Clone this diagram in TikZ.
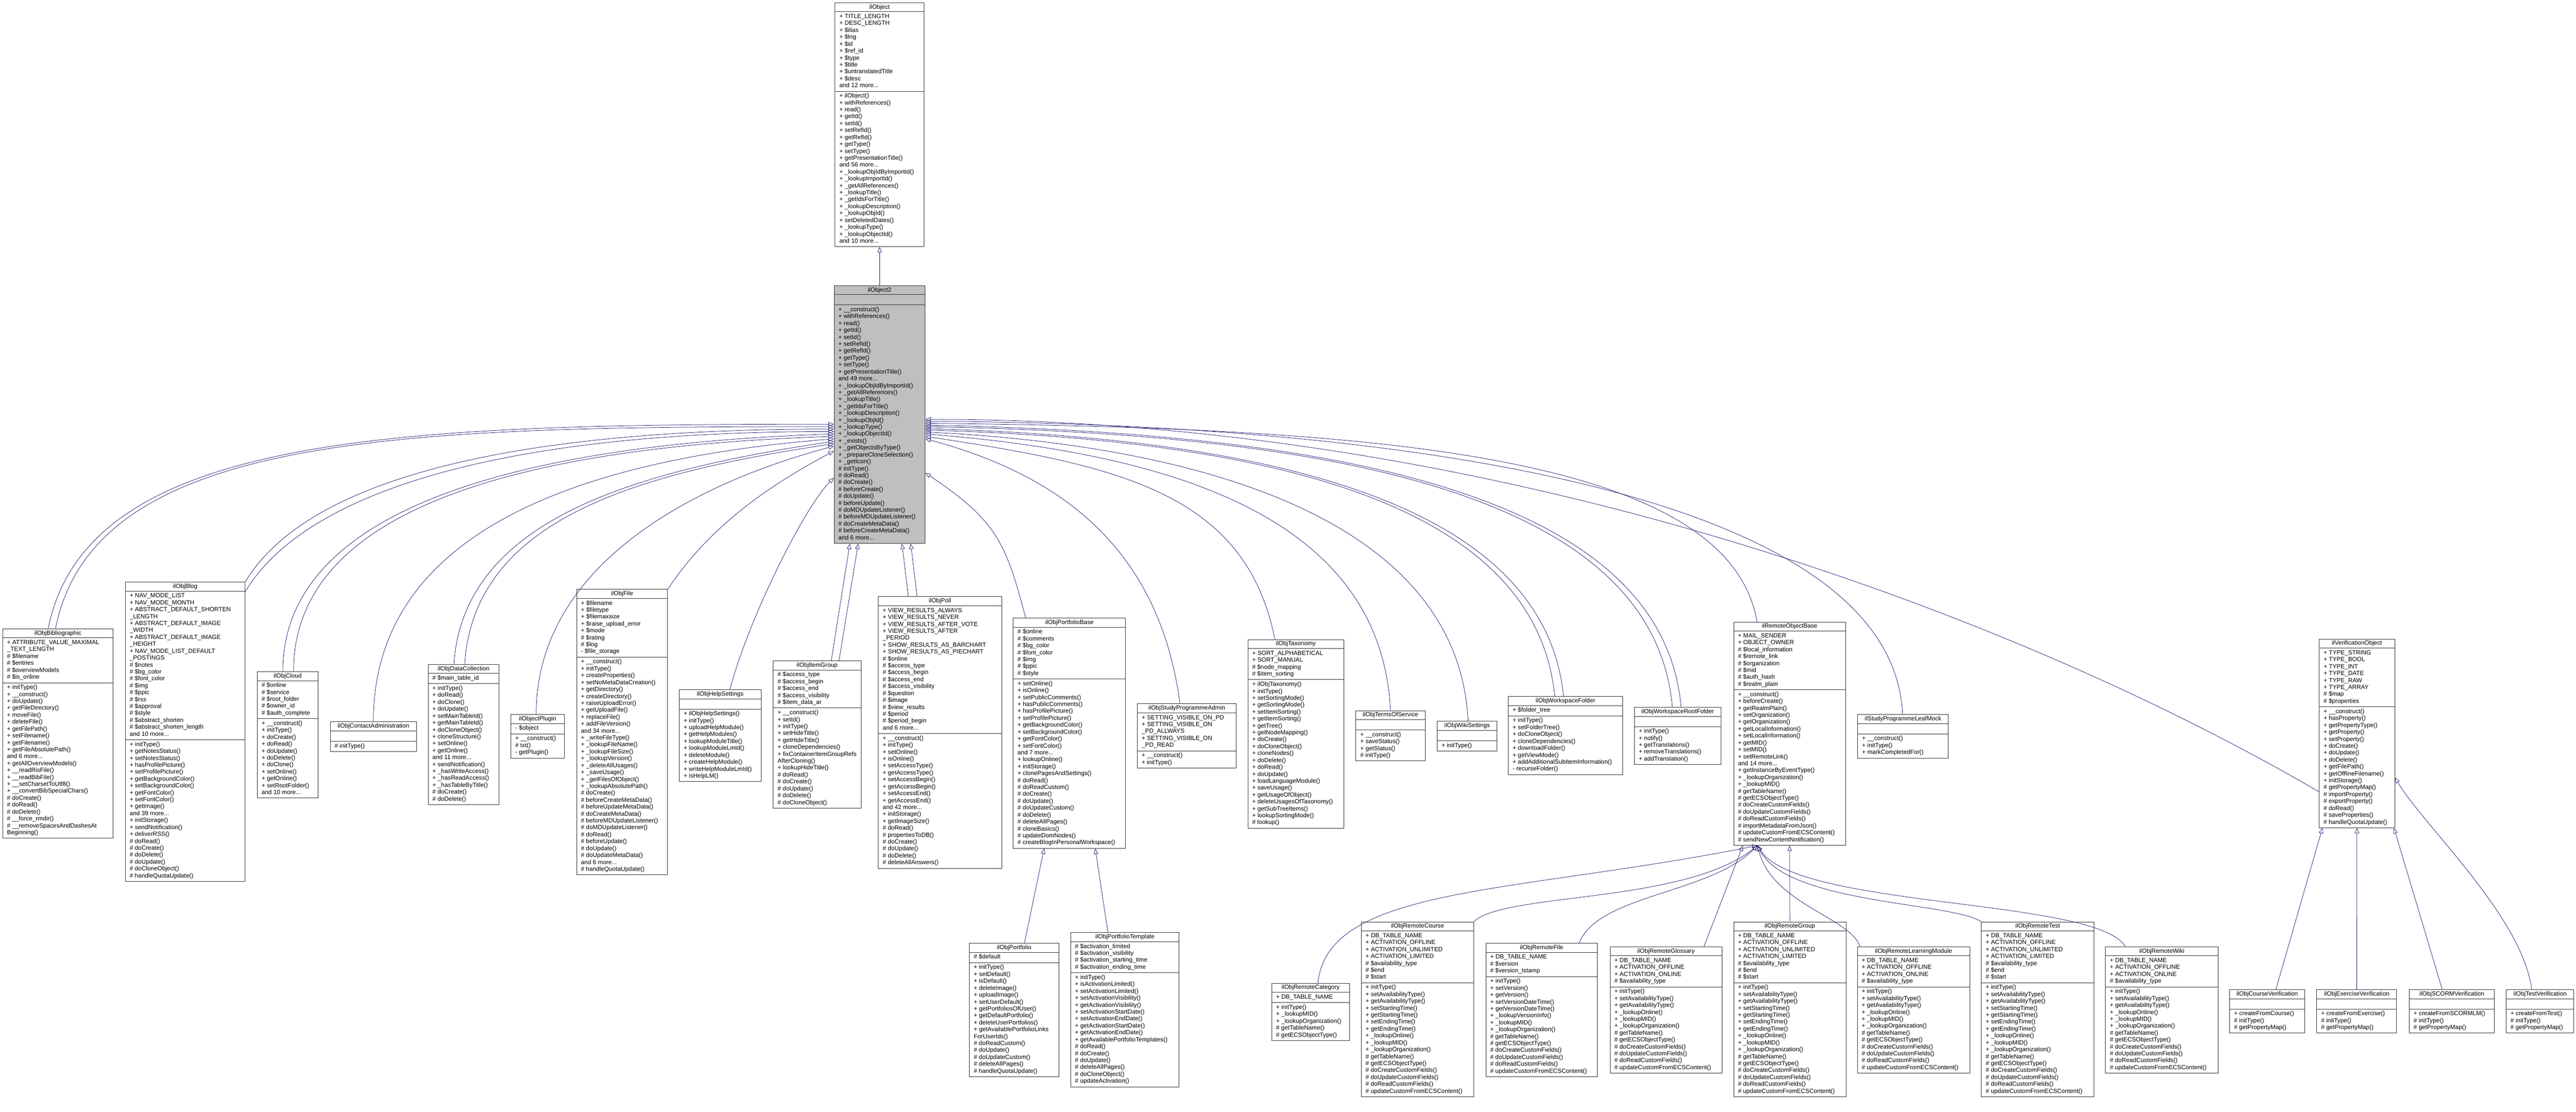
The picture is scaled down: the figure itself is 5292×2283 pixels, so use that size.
\documentclass[tikz,border=0pt]{standalone}
\usepackage{fontspec}
\setmainfont{Liberation Sans}
\usepackage{tikz}
\usetikzlibrary{positioning, shapes.multipart, arrows.meta}

\definecolor{edgeblue}{HTML}{191970}
\definecolor{boxgray}{HTML}{BFBFBF}

\tikzset{
  cls/.style={rectangle split, rectangle split parts=3, draw=black!80, line width=1pt,
    anchor=north west, inner xsep=9pt, inner ysep=3pt, fill=white,
    rectangle split part align={center,left,left},
    font=\fontsize{12.5}{14.2}\selectfont},
  inh/.style={edgeblue, line width=0.8pt, -{Triangle[open, length=11pt, width=9pt]}},
}

% one class box: name, x, y, width, title, attributes, methods
\newcommand{\lines}[1]{\begin{tabular}{@{}l@{}}#1\end{tabular}}
\newcommand{\umlclass}[8][]{%
  \node[cls, minimum width=#4pt, #1] (#2) at (#3) {#5\nodepart{two}\lines{#6}\nodepart{three}\lines{#7}};#8}

\begin{document}
\catcode`\_=12
\begin{tikzpicture}[x=1pt, y=-1pt]
\useasboundingbox (0,0) rectangle (5292,2283);

% ---- base classes
\umlclass{o1}{1715,5}{183}{ilObject}{+ TITLE_LENGTH\\+ DESC_LENGTH\\+ \$ilias\\+ \$lng\\+ \$id\\+ \$ref_id\\+ \$type\\+ \$title\\+ \$untranslatedTitle\\+ \$desc\\and 12 more...}{+ ilObject()\\+ withReferences()\\+ read()\\+ getId()\\+ setId()\\+ setRefId()\\+ getRefId()\\+ getType()\\+ setType()\\+ getPresentationTitle()\\and 56 more...\\+ _lookupObjIdByImportId()\\+ _lookupImportId()\\+ _getAllReferences()\\+ _lookupTitle()\\+ _getIdsForTitle()\\+ _lookupDescription()\\+ _lookupObjId()\\+ setDeletedDates()\\+ _lookupType()\\+ _lookupObjectId()\\and 10 more...}{}
\umlclass[fill=boxgray]{o2}{1713,586}{187}{ilObject2}{\strut}{+ __construct()\\+ withReferences()\\+ read()\\+ getId()\\+ setId()\\+ setRefId()\\+ getRefId()\\+ getType()\\+ setType()\\+ getPresentationTitle()\\and 49 more...\\+ _lookupObjIdByImportId()\\+ _getAllReferences()\\+ _lookupTitle()\\+ _getIdsForTitle()\\+ _lookupDescription()\\+ _lookupObjId()\\+ _lookupType()\\+ _lookupObjectId()\\+ _exists()\\+ _getObjectsByType()\\+ _prepareCloneSelection()\\+ _getIcon()\\\# initType()\\\# doRead()\\\# doCreate()\\\# beforeCreate()\\\# doUpdate()\\\# beforeUpdate()\\\# doMDUpdateListener()\\\# beforeMDUpdateListener()\\\# doCreateMetaData()\\\# beforeCreateMetaData()\\and 6 more...}{}

% ---- direct subclasses
\umlclass{bib}{5,1291}{227}{ilObjBibliographic}{+ ATTRIBUTE_VALUE_MAXIMAL\\_TEXT_LENGTH\\\# \$filename\\\# \$entries\\\# \$overviewModels\\\# \$is_online}{+ initType()\\+ __construct()\\+ doUpdate()\\+ getFileDirectory()\\+ moveFile()\\+ deleteFile()\\+ getFilePath()\\+ setFilename()\\+ getFilename()\\+ getFileAbsolutePath()\\and 6 more...\\+ getAllOverviewModels()\\+ __readRisFile()\\+ __readBibFile()\\+ __setCharsetToUtf8()\\+ __convertBibSpecialChars()\\\# doCreate()\\\# doRead()\\\# doDelete()\\\# __force_rmdir()\\\# __removeSpacesAndDashesAt\\Beginning()}{}
\umlclass{blog}{257,1195}{246}{ilObjBlog}{+ NAV_MODE_LIST\\+ NAV_MODE_MONTH\\+ ABSTRACT_DEFAULT_SHORTEN\\_LENGTH\\+ ABSTRACT_DEFAULT_IMAGE\\_WIDTH\\+ ABSTRACT_DEFAULT_IMAGE\\_HEIGHT\\+ NAV_MODE_LIST_DEFAULT\\_POSTINGS\\\# \$notes\\\# \$bg_color\\\# \$font_color\\\# \$img\\\# \$ppic\\\# \$rss\\\# \$approval\\\# \$style\\\# \$abstract_shorten\\\# \$abstract_shorten_length\\and 10 more...}{+ initType()\\+ getNotesStatus()\\+ setNotesStatus()\\+ hasProfilePicture()\\+ setProfilePicture()\\+ getBackgroundColor()\\+ setBackgroundColor()\\+ getFontColor()\\+ setFontColor()\\+ getImage()\\and 39 more...\\+ initStorage()\\+ sendNotification()\\+ deliverRSS()\\\# doRead()\\\# doCreate()\\\# doDelete()\\\# doUpdate()\\\# doCloneObject()\\\# handleQuotaUpdate()}{}
\umlclass{cloud}{528,1379}{125}{ilObjCloud}{\# \$online\\\# \$service\\\# \$root_folder\\\# \$owner_id\\\# \$auth_complete}{+ __construct()\\+ initType()\\+ doCreate()\\+ doRead()\\+ doUpdate()\\+ doDelete()\\+ doClone()\\+ setOnline()\\+ getOnline()\\+ setRootFolder()\\and 10 more...}{}
\umlclass{contact}{678,1482}{177}{ilObjContactAdministration}{\strut}{\# initType()}{}
\umlclass{datacoll}{879,1364}{146}{ilObjDataCollection}{\# \$main_table_id}{+ initType()\\+ doRead()\\+ doClone()\\+ doUpdate()\\+ setMainTableId()\\+ getMainTableId()\\+ doCloneObject()\\+ cloneStructure()\\+ setOnline()\\+ getOnline()\\and 11 more...\\+ sendNotification()\\+ _hasWriteAccess()\\+ _hasReadAccess()\\+ _hasTableByTitle()\\\# doCreate()\\\# doDelete()}{}
\umlclass{plugin}{1049,1467}{110}{ilObjectPlugin}{- \$object}{+ __construct()\\\# txt()\\- getPlugin()}{}
\umlclass{file}{1184,1210}{187}{ilObjFile}{+ \$filename\\+ \$filetype\\+ \$filemaxsize\\+ \$raise_upload_error\\+ \$mode\\\# \$rating\\\# \$log\\- \$file_storage}{+ __construct()\\+ initType()\\+ createProperties()\\+ setNoMetaDataCreation()\\+ getDirectory()\\+ createDirectory()\\+ raiseUploadError()\\+ getUploadFile()\\+ replaceFile()\\+ addFileVersion()\\and 34 more...\\+ _writeFileType()\\+ _lookupFileName()\\+ _lookupFileSize()\\+ _lookupVersion()\\+ _deleteAllUsages()\\+ _saveUsage()\\+ _getFilesOfObject()\\+ _lookupAbsolutePath()\\\# doCreate()\\\# beforeCreateMetaData()\\\# beforeUpdateMetaData()\\\# doCreateMetaData()\\\# beforeMDUpdateListener()\\\# doMDUpdateListener()\\\# doRead()\\\# beforeUpdate()\\\# doUpdate()\\\# doUpdateMetaData()\\and 6 more...\\\# handleQuotaUpdate()}{}
\umlclass{help}{1395,1416}{168}{ilObjHelpSettings}{\strut}{+ ilObjHelpSettings()\\+ initType()\\+ uploadHelpModule()\\+ getHelpModules()\\+ lookupModuleTitle()\\+ lookupModuleLmId()\\+ deleteModule()\\+ createHelpModule()\\+ writeHelpModuleLmId()\\+ isHelpLM()}{}
\umlclass{itemgrp}{1588,1357}{180}{ilObjItemGroup}{\# \$access_type\\\# \$access_begin\\\# \$access_end\\\# \$access_visibility\\\# \$item_data_ar}{+ __construct()\\+ setId()\\+ initType()\\+ setHideTitle()\\+ getHideTitle()\\+ cloneDependencies()\\+ fixContainerItemGroupRefs\\AfterCloning()\\+ lookupHideTitle()\\\# doRead()\\\# doCreate()\\\# doUpdate()\\\# doDelete()\\\# doCloneObject()}{}
\umlclass{poll}{1804,1225}{253}{ilObjPoll}{+ VIEW_RESULTS_ALWAYS\\+ VIEW_RESULTS_NEVER\\+ VIEW_RESULTS_AFTER_VOTE\\+ VIEW_RESULTS_AFTER\\_PERIOD\\+ SHOW_RESULTS_AS_BARCHART\\+ SHOW_RESULTS_AS_PIECHART\\\# \$online\\\# \$access_type\\\# \$access_begin\\\# \$access_end\\\# \$access_visibility\\\# \$question\\\# \$image\\\# \$view_results\\\# \$period\\\# \$period_begin\\and 6 more...}{+ __construct()\\+ initType()\\+ setOnline()\\+ isOnline()\\+ setAccessType()\\+ getAccessType()\\+ setAccessBegin()\\+ getAccessBegin()\\+ setAccessEnd()\\+ getAccessEnd()\\and 42 more...\\+ initStorage()\\+ getImageSize()\\\# doRead()\\\# propertiesToDB()\\\# doCreate()\\\# doUpdate()\\\# doDelete()\\\# deleteAllAnswers()}{}
\umlclass{pfbase}{2081,1269}{231}{ilObjPortfolioBase}{\# \$online\\\# \$comments\\\# \$bg_color\\\# \$font_color\\\# \$img\\\# \$ppic\\\# \$style}{+ setOnline()\\+ isOnline()\\+ setPublicComments()\\+ hasPublicComments()\\+ hasProfilePicture()\\+ setProfilePicture()\\+ getBackgroundColor()\\+ setBackgroundColor()\\+ getFontColor()\\+ setFontColor()\\and 7 more...\\+ lookupOnline()\\+ initStorage()\\+ clonePagesAndSettings()\\\# doRead()\\\# doReadCustom()\\\# doCreate()\\\# doUpdate()\\\# doUpdateCustom()\\\# doDelete()\\\# deleteAllPages()\\\# cloneBasics()\\\# updateDomNodes()\\\# createBlogInPersonalWorkspace()}{}
\umlclass{spadmin}{2336,1445}{203}{ilObjStudyProgrammeAdmin}{+ SETTING_VISIBLE_ON_PD\\+ SETTING_VISIBLE_ON\\_PD_ALLWAYS\\+ SETTING_VISIBLE_ON\\_PD_READ}{+ __construct()\\+ initType()}{}
\umlclass{taxo}{2563,1313}{197}{ilObjTaxonomy}{+ SORT_ALPHABETICAL\\+ SORT_MANUAL\\\# \$node_mapping\\\# \$item_sorting}{+ ilObjTaxonomy()\\+ initType()\\+ setSortingMode()\\+ getSortingMode()\\+ setItemSorting()\\+ getItemSorting()\\+ getTree()\\+ getNodeMapping()\\+ doCreate()\\+ doCloneObject()\\+ cloneNodes()\\+ doDelete()\\+ doRead()\\+ doUpdate()\\+ loadLanguageModule()\\+ saveUsage()\\+ getUsageOfObject()\\+ deleteUsagesOfTaxonomy()\\+ getSubTreeItems()\\+ lookupSortingMode()\\\# lookup()}{}
\umlclass{tos}{2785,1459}{142}{ilObjTermsOfService}{\strut}{+ __construct()\\+ saveStatus()\\+ getStatus()\\\# initType()}{}
\umlclass{wiki}{2952,1481}{123}{ilObjWikiSettings}{\strut}{+ initType()}{}
\umlclass{wsfolder}{3098,1430}{235}{ilObjWorkspaceFolder}{+ \$folder_tree}{+ initType()\\+ setFolderTree()\\+ doCloneObject()\\+ cloneDependencies()\\+ downloadFolder()\\+ getViewMode()\\+ addAdditionalSubItemInformation()\\- recurseFolder()}{}
\umlclass{wsroot}{3357,1452}{178}{ilObjWorkspaceRootFolder}{\strut}{+ initType()\\+ notify()\\+ getTranslations()\\+ removeTranslations()\\+ addTranslation()}{}
\umlclass{rob}{3561,1277}{230}{ilRemoteObjectBase}{+ MAIL_SENDER\\+ OBJECT_OWNER\\\# \$local_information\\\# \$remote_link\\\# \$organization\\\# \$mid\\\# \$auth_hash\\\# \$realm_plain}{+ __construct()\\+ beforeCreate()\\+ getRealmPlain()\\+ setOrganization()\\+ getOrganization()\\+ getLocalInformation()\\+ setLocalInformation()\\+ getMID()\\+ setMID()\\+ setRemoteLink()\\and 14 more...\\+ getInstanceByEventType()\\+ _lookupOrganization()\\+ _lookupMID()\\\# getTableName()\\\# getECSObjectType()\\\# doCreateCustomFields()\\\# doUpdateCustomFields()\\\# doReadCustomFields()\\\# importMetadataFromJson()\\\# updateCustomFromECSContent()\\\# sendNewContentNotification()}{}
\umlclass{leafmock}{3816,1467}{186}{ilStudyProgrammeLeafMock}{\strut}{+ __construct()\\+ initType()\\+ markCompletedFor()}{}
\umlclass{verif}{4764,1312}{155}{ilVerificationObject}{+ TYPE_STRING\\+ TYPE_BOOL\\+ TYPE_INT\\+ TYPE_DATE\\+ TYPE_RAW\\+ TYPE_ARRAY\\\# \$map\\\# \$properties}{+ __construct()\\+ hasProperty()\\+ getPropertyType()\\+ getProperty()\\+ setProperty()\\+ doCreate()\\+ doUpdate()\\+ doDelete()\\+ getFilePath()\\+ getOfflineFilename()\\+ initStorage()\\\# getPropertyMap()\\\# importProperty()\\\# exportProperty()\\\# doRead()\\\# saveProperties()\\\# handleQuotaUpdate()}{}

% ---- second level
\umlclass{portfolio}{1991,1937}{184}{ilObjPortfolio}{\# \$default}{+ initType()\\+ setDefault()\\+ isDefault()\\+ deleteImage()\\+ uploadImage()\\+ setUserDefault()\\+ getPortfoliosOfUser()\\+ getDefaultPortfolio()\\+ deleteUserPortfolios()\\+ getAvailablePortfolioLinks\\ForUserIds()\\\# doReadCustom()\\\# doUpdate()\\\# doUpdateCustom()\\\# deleteAllPages()\\\# handleQuotaUpdate()}{}
\umlclass{pftemplate}{2199,1915}{223}{ilObjPortfolioTemplate}{\# \$activation_limited\\\# \$activation_visibility\\\# \$activation_starting_time\\\# \$activation_ending_time}{+ initType()\\+ isActivationLimited()\\+ setActivationLimited()\\+ setActivationVisibility()\\+ getActivationVisibility()\\+ setActivationStartDate()\\+ setActivationEndDate()\\+ getActivationStartDate()\\+ getActivationEndDate()\\+ getAvailablePortfolioTemplates()\\\# doRead()\\\# doCreate()\\\# doUpdate()\\\# deleteAllPages()\\\# doCloneObject()\\\# updateActivation()}{}
\umlclass{rcat}{2612,2019}{160}{ilObjRemoteCategory}{+ DB_TABLE_NAME}{+ initType()\\+ _lookupMID()\\+ _lookupOrganization()\\\# getTableName()\\\# getECSObjectType()}{}
\umlclass{rcourse}{2796,1893}{231}{ilObjRemoteCourse}{+ DB_TABLE_NAME\\+ ACTIVATION_OFFLINE\\+ ACTIVATION_UNLIMITED\\+ ACTIVATION_LIMITED\\\# \$availability_type\\\# \$end\\\# \$start}{+ initType()\\+ setAvailabilityType()\\+ getAvailabilityType()\\+ setStartingTime()\\+ getStartingTime()\\+ setEndingTime()\\+ getEndingTime()\\+ _lookupOnline()\\+ _lookupMID()\\+ _lookupOrganization()\\\# getTableName()\\\# getECSObjectType()\\\# doCreateCustomFields()\\\# doUpdateCustomFields()\\\# doReadCustomFields()\\\# updateCustomFromECSContent()}{}
\umlclass{rfile}{3052,1937}{229}{ilObjRemoteFile}{+ DB_TABLE_NAME\\\# \$version\\\# \$version_tstamp}{+ initType()\\+ setVersion()\\+ getVersion()\\+ setVersionDateTime()\\+ getVersionDateTime()\\+ _lookupVersionInfo()\\+ _lookupMID()\\+ _lookupOrganization()\\\# getTableName()\\\# getECSObjectType()\\\# doCreateCustomFields()\\\# doUpdateCustomFields()\\\# doReadCustomFields()\\\# updateCustomFromECSContent()}{}
\umlclass{rgloss}{3307,1944}{230}{ilObjRemoteGlossary}{+ DB_TABLE_NAME\\+ ACTIVATION_OFFLINE\\+ ACTIVATION_ONLINE\\\# \$availability_type}{+ initType()\\+ setAvailabilityType()\\+ getAvailabilityType()\\+ _lookupOnline()\\+ _lookupMID()\\+ _lookupOrganization()\\\# getTableName()\\\# getECSObjectType()\\\# doCreateCustomFields()\\\# doUpdateCustomFields()\\\# doReadCustomFields()\\\# updateCustomFromECSContent()}{}
\umlclass{rgroup}{3561,1893}{231}{ilObjRemoteGroup}{+ DB_TABLE_NAME\\+ ACTIVATION_OFFLINE\\+ ACTIVATION_UNLIMITED\\+ ACTIVATION_LIMITED\\\# \$availability_type\\\# \$end\\\# \$start}{+ initType()\\+ setAvailabilityType()\\+ getAvailabilityType()\\+ setStartingTime()\\+ getStartingTime()\\+ setEndingTime()\\+ getEndingTime()\\+ _lookupOnline()\\+ _lookupMID()\\+ _lookupOrganization()\\\# getTableName()\\\# getECSObjectType()\\\# doCreateCustomFields()\\\# doUpdateCustomFields()\\\# doReadCustomFields()\\\# updateCustomFromECSContent()}{}
\umlclass{rlm}{3815,1944}{231}{ilObjRemoteLearningModule}{+ DB_TABLE_NAME\\+ ACTIVATION_OFFLINE\\+ ACTIVATION_ONLINE\\\# \$availability_type}{+ initType()\\+ setAvailabilityType()\\+ getAvailabilityType()\\+ _lookupOnline()\\+ _lookupMID()\\+ _lookupOrganization()\\\# getTableName()\\\# getECSObjectType()\\\# doCreateCustomFields()\\\# doUpdateCustomFields()\\\# doReadCustomFields()\\\# updateCustomFromECSContent()}{}
\umlclass{rtest}{4070,1893}{231}{ilObjRemoteTest}{+ DB_TABLE_NAME\\+ ACTIVATION_OFFLINE\\+ ACTIVATION_UNLIMITED\\+ ACTIVATION_LIMITED\\\# \$availability_type\\\# \$end\\\# \$start}{+ initType()\\+ setAvailabilityType()\\+ getAvailabilityType()\\+ setStartingTime()\\+ getStartingTime()\\+ setEndingTime()\\+ getEndingTime()\\+ _lookupOnline()\\+ _lookupMID()\\+ _lookupOrganization()\\\# getTableName()\\\# getECSObjectType()\\\# doCreateCustomFields()\\\# doUpdateCustomFields()\\\# doReadCustomFields()\\\# updateCustomFromECSContent()}{}
\umlclass{rwiki}{4325,1944}{231}{ilObjRemoteWiki}{+ DB_TABLE_NAME\\+ ACTIVATION_OFFLINE\\+ ACTIVATION_ONLINE\\\# \$availability_type}{+ initType()\\+ setAvailabilityType()\\+ getAvailabilityType()\\+ _lookupOnline()\\+ _lookupMID()\\+ _lookupOrganization()\\\# getTableName()\\\# getECSObjectType()\\\# doCreateCustomFields()\\\# doUpdateCustomFields()\\\# doReadCustomFields()\\\# updateCustomFromECSContent()}{}
\umlclass{vcourse}{4580,2032}{154}{ilObjCourseVerification}{\strut}{+ createFromCourse()\\\# initType()\\\# getPropertyMap()}{}
\umlclass{vexer}{4759,2032}{164}{ilObjExerciseVerification}{\strut}{+ createFromExercise()\\\# initType()\\\# getPropertyMap()}{}
\umlclass{vscorm}{4949,2032}{175}{ilObjSCORMVerification}{\strut}{+ createFromSCORMLM()\\\# initType()\\\# getPropertyMap()}{}
\umlclass{vtest}{5148,2032}{139}{ilObjTestVerification}{\strut}{+ createFromTest()\\\# initType()\\\# getPropertyMap()}{}

% ---- inheritance (canvas y runs downward)
\draw[inh] (o2.north) -- (o1.south);

\draw[inh] ([xshift=-20pt]bib.north) .. controls +(80,-400) and +(-900,0) .. ([yshift=-20pt]o2.west);
\draw[inh] ([xshift=-5pt]bib.north) .. controls +(80,-400) and +(-900,0) .. ([yshift=-25pt]o2.west);
\draw[inh] (blog.north east) .. controls +(120,-200) and +(-700,0) .. ([yshift=-30pt]o2.west);
\draw[inh] ([yshift=-20pt]blog.north east) .. controls +(120,-200) and +(-700,0) .. ([yshift=-35pt]o2.west);
\draw[inh] ([xshift=-10pt]cloud.north) .. controls +(0,-350) and +(-600,20) .. ([yshift=-40pt]o2.west);
\draw[inh] ([xshift=12pt]cloud.north) .. controls +(0,-350) and +(-600,20) .. ([yshift=-45pt]o2.west);
\draw[inh] (contact.north) .. controls +(0,-400) and +(-500,40) .. ([yshift=-50pt]o2.west);
\draw[inh] ([xshift=-20pt]datacoll.north) .. controls +(20,-300) and +(-400,60) .. ([yshift=-55pt]o2.west);
\draw[inh] ([xshift=2pt]datacoll.north) .. controls +(20,-300) and +(-400,60) .. ([yshift=-60pt]o2.west);
\draw[inh] ([xshift=-3pt]plugin.north) .. controls +(0,-300) and +(-300,80) .. ([yshift=-65pt]o2.west);
\draw[inh] (file.north east) .. controls +(80,-120) and +(-150,80) .. ([yshift=-75pt]o2.west);
\draw[inh] ([xshift=20pt]help.north) .. controls +(40,-150) and +(-60,60) .. ([yshift=-130pt]o2.west);
\draw[inh] ([xshift=29pt]itemgrp.north) -- ([xshift=-61pt]o2.south);
\draw[inh] ([xshift=45pt]itemgrp.north) -- ([xshift=-44pt]o2.south);
\draw[inh] ([xshift=-65pt]poll.north) -- ([xshift=46pt]o2.south);
\draw[inh] ([xshift=-47pt]poll.north) -- ([xshift=64pt]o2.south);

\draw[inh] ([xshift=-90pt]pfbase.north) .. controls +(-40,-150) and +(150,100) .. ([yshift=-120pt]o2.east);
\draw[inh] ([xshift=-14pt]spadmin.north) .. controls +(-40,-300) and +(300,80) .. ([yshift=-50pt]o2.east);
\draw[inh] ([xshift=-43pt]taxo.north) .. controls +(-60,-300) and +(400,60) .. ([yshift=-45pt]o2.east);
\draw[inh] (tos.north) .. controls +(-20,-400) and +(500,40) .. ([yshift=-40pt]o2.east);
\draw[inh] ([xshift=2pt]wiki.north) .. controls +(-20,-400) and +(600,30) .. ([yshift=-36pt]o2.east);
\draw[inh] ([xshift=-22pt]wsfolder.north) .. controls +(-40,-400) and +(700,20) .. ([yshift=-32pt]o2.east);
\draw[inh] ([xshift=-4pt]wsfolder.north) .. controls +(-40,-400) and +(700,20) .. ([yshift=-29pt]o2.east);
\draw[inh] ([xshift=-11pt]wsroot.north) .. controls +(-40,-450) and +(800,15) .. ([yshift=-25pt]o2.east);
\draw[inh] ([xshift=7pt]wsroot.north) .. controls +(-40,-450) and +(800,15) .. ([yshift=-22pt]o2.east);
\draw[inh] ([xshift=-67pt]rob.north) .. controls +(-60,-350) and +(900,10) .. ([yshift=-18pt]o2.east);
\draw[inh] ([xshift=-1pt]leafmock.north) .. controls +(-20,-450) and +(1000,5) .. ([yshift=-14pt]o2.east);
\draw[inh] ([yshift=-120pt]verif.west) .. controls +(-600,-350) and +(1200,0) .. ([yshift=-10pt]o2.east);

\draw[inh] ([xshift=21pt]portfolio.north) -- ([xshift=-52pt]pfbase.south);
\draw[inh] ([xshift=-35pt]pftemplate.north) -- ([xshift=53pt]pfbase.south);

\draw[inh] ([xshift=15pt]rcat.north) .. controls +(20,-200) and +(-500,100) .. ([xshift=-66pt]rob.south);
\draw[inh] (rcourse.north east) .. controls +(60,-60) and +(-150,120) .. ([xshift=-66pt]rob.south);
\draw[inh] ([xshift=77pt]rfile.north) .. controls +(40,-100) and +(-100,100) .. ([xshift=-66pt]rob.south);
\draw[inh] ([xshift=78pt]rgloss.north) -- ([xshift=-96pt]rob.south);
\draw[inh] (rgroup.north) -- (rob.south);
\draw[inh] ([xshift=-110pt]rlm.north) .. controls +(-20,-60) and +(30,120) .. ([xshift=-66pt]rob.south);
\draw[inh] (rtest.north west) .. controls +(-60,-40) and +(60,120) .. ([xshift=-66pt]rob.south);
\draw[inh] ([xshift=-75pt]rwiki.north) .. controls +(-60,-100) and +(80,130) .. ([xshift=-66pt]rob.south);

\draw[inh] ([xshift=18pt]vcourse.north) -- ([xshift=-71pt]verif.south);
\draw[inh] (vexer.north) -- (verif.south);
\draw[inh] ([xshift=-20pt]vscorm.north) -- ([xshift=76pt]verif.south);
\draw[inh] ([xshift=-17pt]vtest.north) .. controls +(-20,-150) and +(60,100) .. ([yshift=-91pt]verif.east);
\end{tikzpicture}
\end{document}
